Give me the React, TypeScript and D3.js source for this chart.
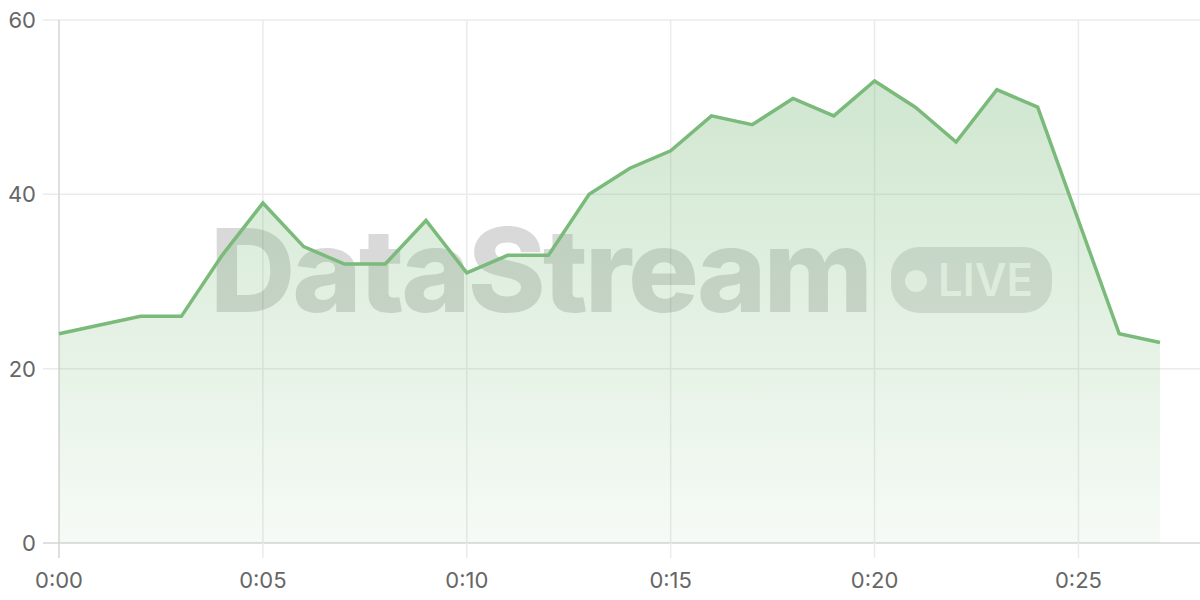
import React from "react";
import * as d3 from "d3";

const minutes: number[] = Array.from({ length: 28 }, (_, i) => i);
const values: number[] = [24, 25, 26, 26, 33, 39, 34, 32, 32, 37, 31, 33, 33, 40, 43, 45, 49, 48, 51, 49, 53, 50, 46, 52, 50, 37, 24, 23];
const xTicks: number[] = [0, 5, 10, 15, 20, 25];
const yTicks: number[] = [0, 20, 40, 60];
const watermark = "DataStream";
const badgeText = "LIVE";

const W = 1200;
const H = 600;
const left = 59;
const top = 20;
const bottom = 543;
const right = 1200;

export default function App() {
  const x = d3.scaleLinear().domain([0, 27]).range([left, 1160]);
  const y = d3.scaleLinear().domain([0, 60]).range([bottom, top]);
  const data = minutes.map((m, i) => ({ m, v: values[i] }));
  const line = d3.line<{ m: number; v: number }>().x((d) => x(d.m)).y((d) => y(d.v));
  const area = d3
    .area<{ m: number; v: number }>()
    .x((d) => x(d.m))
    .y0(y(0))
    .y1((d) => y(d.v));
  const fmt = (m: number) => `0:${String(m).padStart(2, "0")}`;
  const font = "Inter, 'Noto Sans', sans-serif";

  return (
    <svg
      width={W}
      height={H}
      style={{ position: "absolute", left: 0, top: 0, background: "#fff" }}
      fontFamily={font}
    >
      <defs>
        <linearGradient id="ag" x1="0" y1="0" x2="0" y2="1" gradientUnits="objectBoundingBox">
          <stop offset="0%" stopColor="rgb(124,187,124)" stopOpacity={0.36} />
          <stop offset="100%" stopColor="rgb(124,187,124)" stopOpacity={0.07} />
        </linearGradient>
      </defs>
      {yTicks.map((t) => (
        <g key={"y" + t}>
          <line x1={43} x2={right} y1={y(t)} y2={y(t)} stroke={t === 0 ? "#d4d4d4" : "#ebebeb"} strokeWidth={1.5} />
          <text x={36} y={y(t)} dy="0.36em" textAnchor="end" fontSize={22} fill="#666">
            {t}
          </text>
        </g>
      ))}
      {xTicks.map((t) => (
        <g key={"x" + t}>
          <line x1={x(t)} x2={x(t)} y1={top} y2={558} stroke={t === 0 ? "#d4d4d4" : "#ebebeb"} strokeWidth={1.5} />
          <text x={x(t)} y={588} textAnchor="middle" fontSize={22} fill="#666">
            {fmt(t)}
          </text>
        </g>
      ))}
      <g>
        <text
          x={210}
          y={312}
          fontSize={116}
          fontWeight={800}
          fill="rgba(0,0,0,0.15)"
          textLength={660}
          lengthAdjust="spacingAndGlyphs"
          letterSpacing={-3}
        >
          {watermark}
        </text>
        <rect x={891} y={247} width={161} height={66} rx={28} fill="rgba(0,0,0,0.12)" />
        <circle cx={916} cy={281} r={11} fill="rgba(255,255,255,0.85)" />
        <text
          x={938}
          y={296}
          fontSize={45}
          fontWeight={600}
          fill="rgba(255,255,255,0.85)"
          textLength={95}
          lengthAdjust="spacingAndGlyphs"
        >
          {badgeText}
        </text>
      </g>
      <path d={area(data) || ""} fill="url(#ag)" />
      <path d={line(data) || ""} fill="none" stroke="#7aba7a" strokeWidth={3.5} strokeLinejoin="miter" />
    </svg>
  );
}
